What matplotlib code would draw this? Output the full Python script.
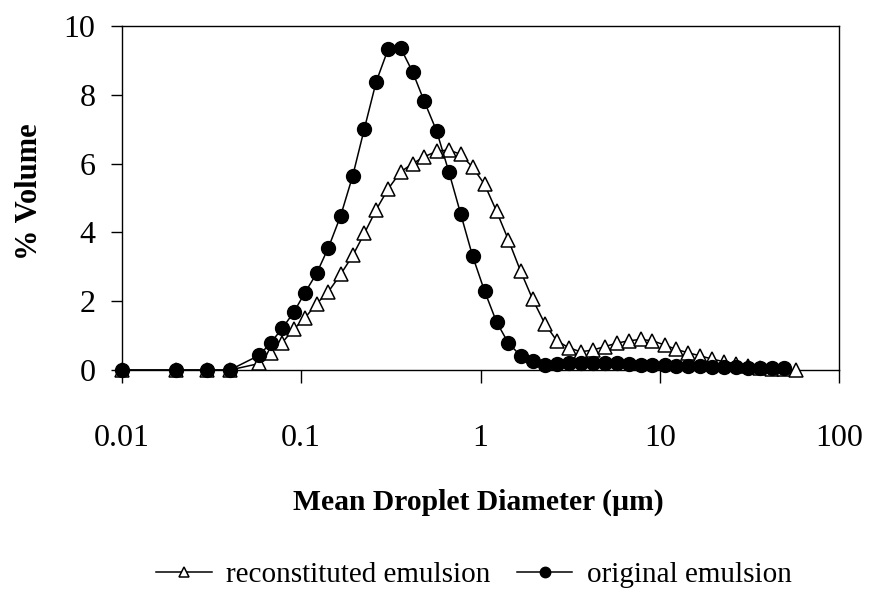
import matplotlib
import numpy as np

matplotlib.use("Agg")
import matplotlib.pyplot as plt

# droplet size classes (um)
diameter = [0.01, 0.02, 0.03, 0.04, 0.0585, 0.0676, 0.0785, 0.0915, 0.1045, 0.122,
            0.142, 0.166, 0.194, 0.225, 0.262, 0.305, 0.358, 0.418, 0.485, 0.569,
            0.666, 0.774, 0.902, 1.052, 1.227, 1.43, 1.67, 1.95, 2.28, 2.66,
            3.10, 3.61, 4.21, 4.91, 5.73, 6.68, 7.79, 9.08, 10.6, 12.3,
            14.4, 16.8, 19.5, 22.8, 26.6, 31.0, 36.1, 42.1, 49.1, 57.3]

reconstituted = [0, 0, 0, 0, 0.19, 0.50, 0.80, 1.20, 1.50, 1.93,
                 2.28, 2.78, 3.33, 3.97, 4.66, 5.26, 5.76, 6.00, 6.20, 6.36,
                 6.40, 6.27, 5.90, 5.40, 4.62, 3.78, 2.88, 2.06, 1.35, 0.85,
                 0.65, 0.53, 0.58, 0.68, 0.78, 0.85, 0.89, 0.85, 0.73, 0.60,
                 0.50, 0.41, 0.32, 0.24, 0.18, 0.12, 0.07, 0.04, 0.02, 0.0]

original = [0, 0, 0, 0, 0.43, 0.79, 1.21, 1.70, 2.23, 2.81,
            3.56, 4.48, 5.65, 7.01, 8.38, 9.32, 9.37, 8.67, 7.82, 6.95,
            5.76, 4.55, 3.32, 2.30, 1.40, 0.78, 0.42, 0.25, 0.15, 0.17,
            0.20, 0.21, 0.21, 0.20, 0.19, 0.17, 0.16, 0.15, 0.14, 0.13,
            0.12, 0.11, 0.10, 0.09, 0.08, 0.07, 0.06, 0.05, 0.05]

xticks = [0.01, 0.1, 1, 10, 100]
xtick_labels = ["0.01", "0.1", "1", "10", "100"]
yticks = [0, 2, 4, 6, 8, 10]

plt.rcParams["font.family"] = ["Liberation Serif", "DejaVu Serif"]

fig = plt.figure(figsize=(8.69, 5.93), dpi=100)
ax = fig.add_axes([0.140, 0.376, 0.826, 0.580])

ax.plot(diameter, reconstituted, color="black", linewidth=1.1, marker="^",
        markersize=10, markerfacecolor="white", markeredgecolor="black",
        markeredgewidth=1.1, clip_on=False, zorder=3, label="reconstituted emulsion")
ax.plot(diameter[:len(original)], original, color="black", linewidth=1.1, marker="o",
        markersize=10, markerfacecolor="black", markeredgecolor="black",
        clip_on=False, zorder=4, label="original emulsion")

ax.set_xscale("log")
ax.set_xlim(0.01, 100)
ax.set_ylim(0, 10)
ax.set_xticks(xticks)
ax.set_xticklabels(xtick_labels)
ax.xaxis.set_minor_locator(matplotlib.ticker.NullLocator())
ax.set_yticks(yticks)
ax.tick_params(axis="x", direction="out", length=9, width=1, pad=30, labelsize=23)
ax.tick_params(axis="y", direction="out", length=8, width=1, pad=11, labelsize=23)
for spine in ax.spines.values():
    spine.set_linewidth(1.0)

fig.text(478 / 869, 1 - 502 / 593, "Mean Droplet Diameter (µm)", ha="center",
         va="center", fontsize=21.3, fontweight="bold")
fig.text(30 / 869, 1 - 192 / 593, "% Volume", ha="center", va="center",
         rotation=90, fontsize=22, fontweight="bold")

fig.legend(loc="center", bbox_to_anchor=(474 / 869, 1 - 575 / 593), ncol=2,
           frameon=False, fontsize=21, handlelength=1.9, handletextpad=0.5,
           columnspacing=0.9, markerscale=0.75)

plt.savefig("out.png", dpi=100)
plt.close()
